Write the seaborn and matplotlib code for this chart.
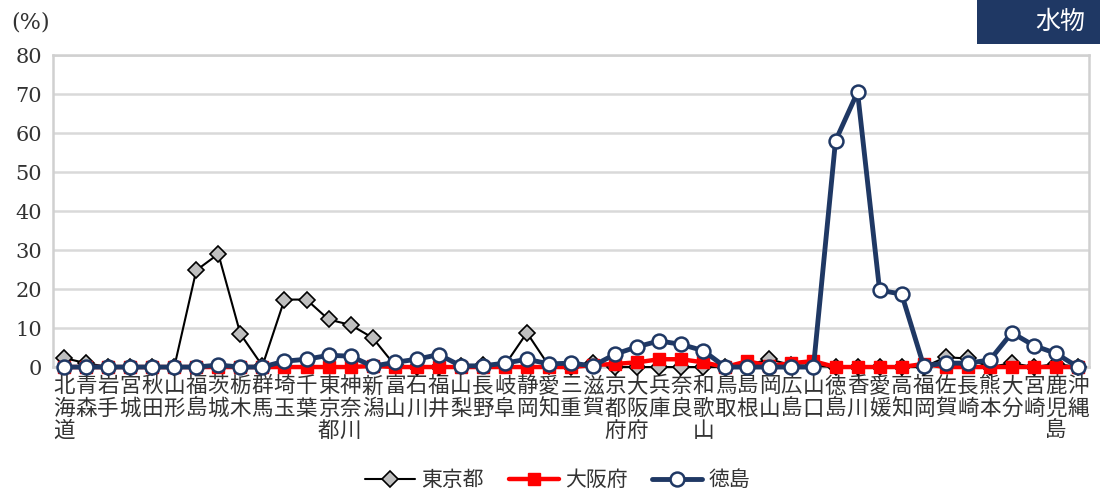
import numpy as np
import pandas as pd
import matplotlib
matplotlib.use("Agg")
import matplotlib.pyplot as plt
import seaborn as sns

prefectures = [
    "北海道", "青森", "岩手", "宮城", "秋田", "山形", "福島", "茨城", "栃木", "群馬",
    "埼玉", "千葉", "東京都", "神奈川", "新潟", "富山", "石川", "福井", "山梨", "長野",
    "岐阜", "静岡", "愛知", "三重", "滋賀", "京都府", "大阪府", "兵庫", "奈良", "和歌山",
    "鳥取", "島根", "岡山", "広島", "山口", "徳島", "香川", "愛媛", "高知", "福岡",
    "佐賀", "長崎", "熊本", "大分", "宮崎", "鹿児島", "沖縄",
]

tokyo = [
    2.3, 1.0, 0.0, 0.0, 0.0, 0.0, 24.8, 29.0, 8.5, 0.3,
    17.3, 17.3, 12.2, 10.8, 7.5, 0.5, 0.0, 0.0, 0.3, 0.5,
    0.5, 8.8, 0.3, 0.0, 1.0, 0.0, 0.0, 0.0, 0.0, 0.0,
    0.0, 0.5, 2.0, 0.5, 0.3, 0.0, 0.0, 0.0, 0.0, 0.0,
    2.5, 2.2, 0.0, 1.0, 0.0, 0.8, 0.0,
]

osaka = [
    0.0, 0.0, 0.0, 0.0, 0.0, 0.0, 0.0, 0.0, 0.0, 0.0,
    0.0, 0.0, 0.0, 0.0, 0.3, 0.0, 0.0, 0.0, 0.0, 0.0,
    0.0, 0.0, 0.0, 0.0, 0.5, 0.8, 1.2, 2.0, 2.0, 1.2,
    0.0, 1.5, 0.3, 1.0, 1.5, 0.0, 0.0, 0.0, 0.0, 0.8,
    0.0, 0.0, 0.0, 0.0, 0.0, 0.0, 0.0,
]

tokushima = [
    0.0, 0.0, 0.0, 0.0, 0.0, 0.0, 0.0, 0.5, 0.0, 0.0,
    1.5, 2.0, 3.0, 2.8, 0.2, 1.2, 2.0, 3.2, 0.3, 0.3,
    1.0, 2.0, 0.8, 1.0, 0.3, 3.3, 5.2, 6.7, 5.8, 4.2,
    0.0, 0.0, 0.0, 0.0, 0.0, 58.0, 70.5, 19.7, 18.7, 0.3,
    1.0, 1.0, 1.8, 8.8, 5.5, 3.5, 0.0,
]

series_names = ["東京都", "大阪府", "徳島"]
y_ticks = [0, 10, 20, 30, 40, 50, 60, 70, 80]

sns.set_theme(style="white")
plt.rcParams["font.family"] = ["Noto Sans CJK JP", "DejaVu Sans"]

fig = plt.figure(figsize=(11, 4.96), dpi=100)
ax = fig.add_axes([0.0482, 0.260, 0.9418, 0.629])

x = np.arange(len(prefectures))
df = pd.DataFrame({"x": x, "東京都": tokyo, "大阪府": osaka, "徳島": tokushima})

styles = {
    "東京都": dict(color="black", lw=1.5, marker="D", ms=8, mfc="#bfbfbf",
                 mec="black", mew=1.2, zorder=3),
    "大阪府": dict(color="#ff0000", lw=3.2, marker="s", ms=9, mfc="#ff0000",
                 mec="#ff0000", mew=1, zorder=4),
    "徳島": dict(color="#1f3864", lw=3.5, marker="o", ms=10, mfc="white",
               mec="#1f3864", mew=1.8, zorder=5),
}

for name in series_names:
    st = styles[name]
    sns.lineplot(data=df, x="x", y=name, ax=ax, label=name, sort=False,
                 color=st["color"], linewidth=st["lw"], marker=st["marker"],
                 markersize=st["ms"], markerfacecolor=st["mfc"],
                 markeredgecolor=st["mec"], markeredgewidth=st["mew"],
                 zorder=st["zorder"], clip_on=False)

ax.set_xlim(-0.5, len(prefectures) - 0.5)
ax.set_ylim(0, 80)
ax.set_yticks(y_ticks)
ax.set_yticklabels([str(v) for v in y_ticks], family="DejaVu Serif",
                   fontsize=15, color="#333333")
ax.set_xticks(x)
ax.set_xticklabels(["\n".join(list(p)) for p in prefectures], fontsize=15.5,
                   color="#333333", linespacing=1.02, va="top")
ax.tick_params(axis="x", length=0, pad=6)
ax.tick_params(axis="y", length=0, pad=8)
ax.set_xlabel("")
ax.set_ylabel("")

ax.grid(axis="y", color="#d9d9d9", linewidth=1.8)
ax.set_axisbelow(True)
for side, sp in ax.spines.items():
    sp.set_color("#d0d0d0")
    sp.set_linewidth(1.8)

leg = ax.legend(loc="center", bbox_to_anchor=(0.487, -0.362), ncol=3,
                frameon=False, fontsize=15, handlelength=2.4, columnspacing=1.2,
                handletextpad=0.3)
for t in leg.get_texts():
    t.set_color("#333333")

fig.text(0.010, 0.955, "(%)", family="DejaVu Serif", fontsize=16,
         color="#333333", va="center", ha="left")

# category badge in the top-right corner
fig.patches.append(matplotlib.patches.Rectangle(
    (977 / 1100, 1 - 44 / 496), 123 / 1100, 44 / 496,
    transform=fig.transFigure, facecolor="#1f3864", edgecolor="none"))
fig.text(1060 / 1100, 1 - 22 / 496, "水物", fontsize=18, color="white",
         ha="center", va="center")

fig.savefig("out.png", dpi=100)
